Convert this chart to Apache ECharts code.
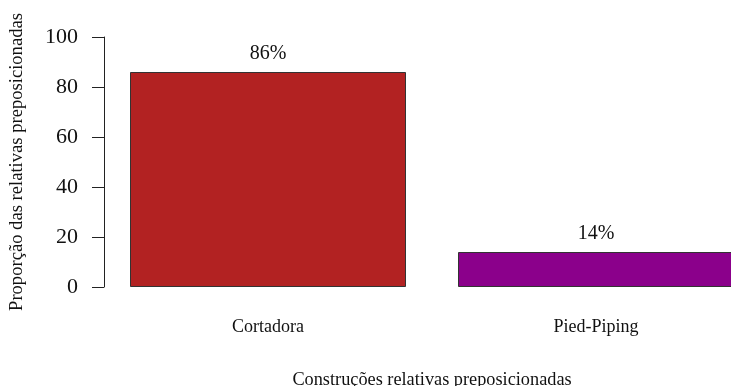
<!DOCTYPE html>
<html>
<head>
<meta charset="utf-8">
<script src="https://cdn.jsdelivr.net/npm/echarts@6/dist/echarts.min.js"></script>
<style>
  html, body { margin: 0; padding: 0; background: #fff; }
  #chart { width: 731px; height: 386px; }
</style>
</head>
<body>
<div id="chart"></div>
<script>
// Construções relativas preposicionadas: share of each strategy (%)
const categories = ['Cortadora', 'Pied-Piping'];
const proportions = [86, 14];
const barColors = ['#B22222', '#8B008B'];
const yTicks = [0, 20, 40, 60, 80, 100];

const serif = '"Liberation Serif", "Times New Roman", serif';

const chart = echarts.init(document.getElementById('chart'), null, { renderer: 'canvas' });

chart.setOption({
  backgroundColor: '#ffffff',
  animation: false,
  grid: { left: 104, top: 37, width: 656, height: 250, containLabel: false, outerBoundsMode: 'none' },
  xAxis: {
    type: 'category',
    data: categories,
    axisLine: { show: false },
    axisTick: { show: false },
    axisLabel: { margin: 31, color: '#111', fontFamily: serif, fontSize: 18 },
    name: 'Construções relativas preposicionadas',
    nameLocation: 'middle',
    nameGap: 84,
    nameTextStyle: { color: '#111', fontFamily: serif, fontSize: 18.3 }
  },
  yAxis: {
    type: 'value',
    min: yTicks[0],
    max: yTicks[yTicks.length - 1],
    interval: 20,
    splitLine: { show: false },
    axisLine: { show: true, lineStyle: { color: '#222', width: 1 } },
    axisTick: { show: true, length: 12, lineStyle: { color: '#222', width: 1 } },
    axisLabel: { margin: 26, color: '#111', fontFamily: serif, fontSize: 22 },
    name: 'Proporção das relativas preposicionadas',
    nameLocation: 'middle',
    nameRotate: 90,
    nameGap: 77,
    nameTextStyle: { color: '#111', fontFamily: serif, fontSize: 18.6 }
  },
  series: [{
    type: 'bar',
    barWidth: 276,
    data: proportions.map((v, i) => ({
      value: v,
      itemStyle: { color: barColors[i], borderColor: '#333', borderWidth: 1 }
    })),
    label: {
      show: true,
      position: 'top',
      distance: 8,
      formatter: p => p.value + '%',
      color: '#111',
      fontFamily: serif,
      fontSize: 20
    }
  }]
});
</script>
</body>
</html>
